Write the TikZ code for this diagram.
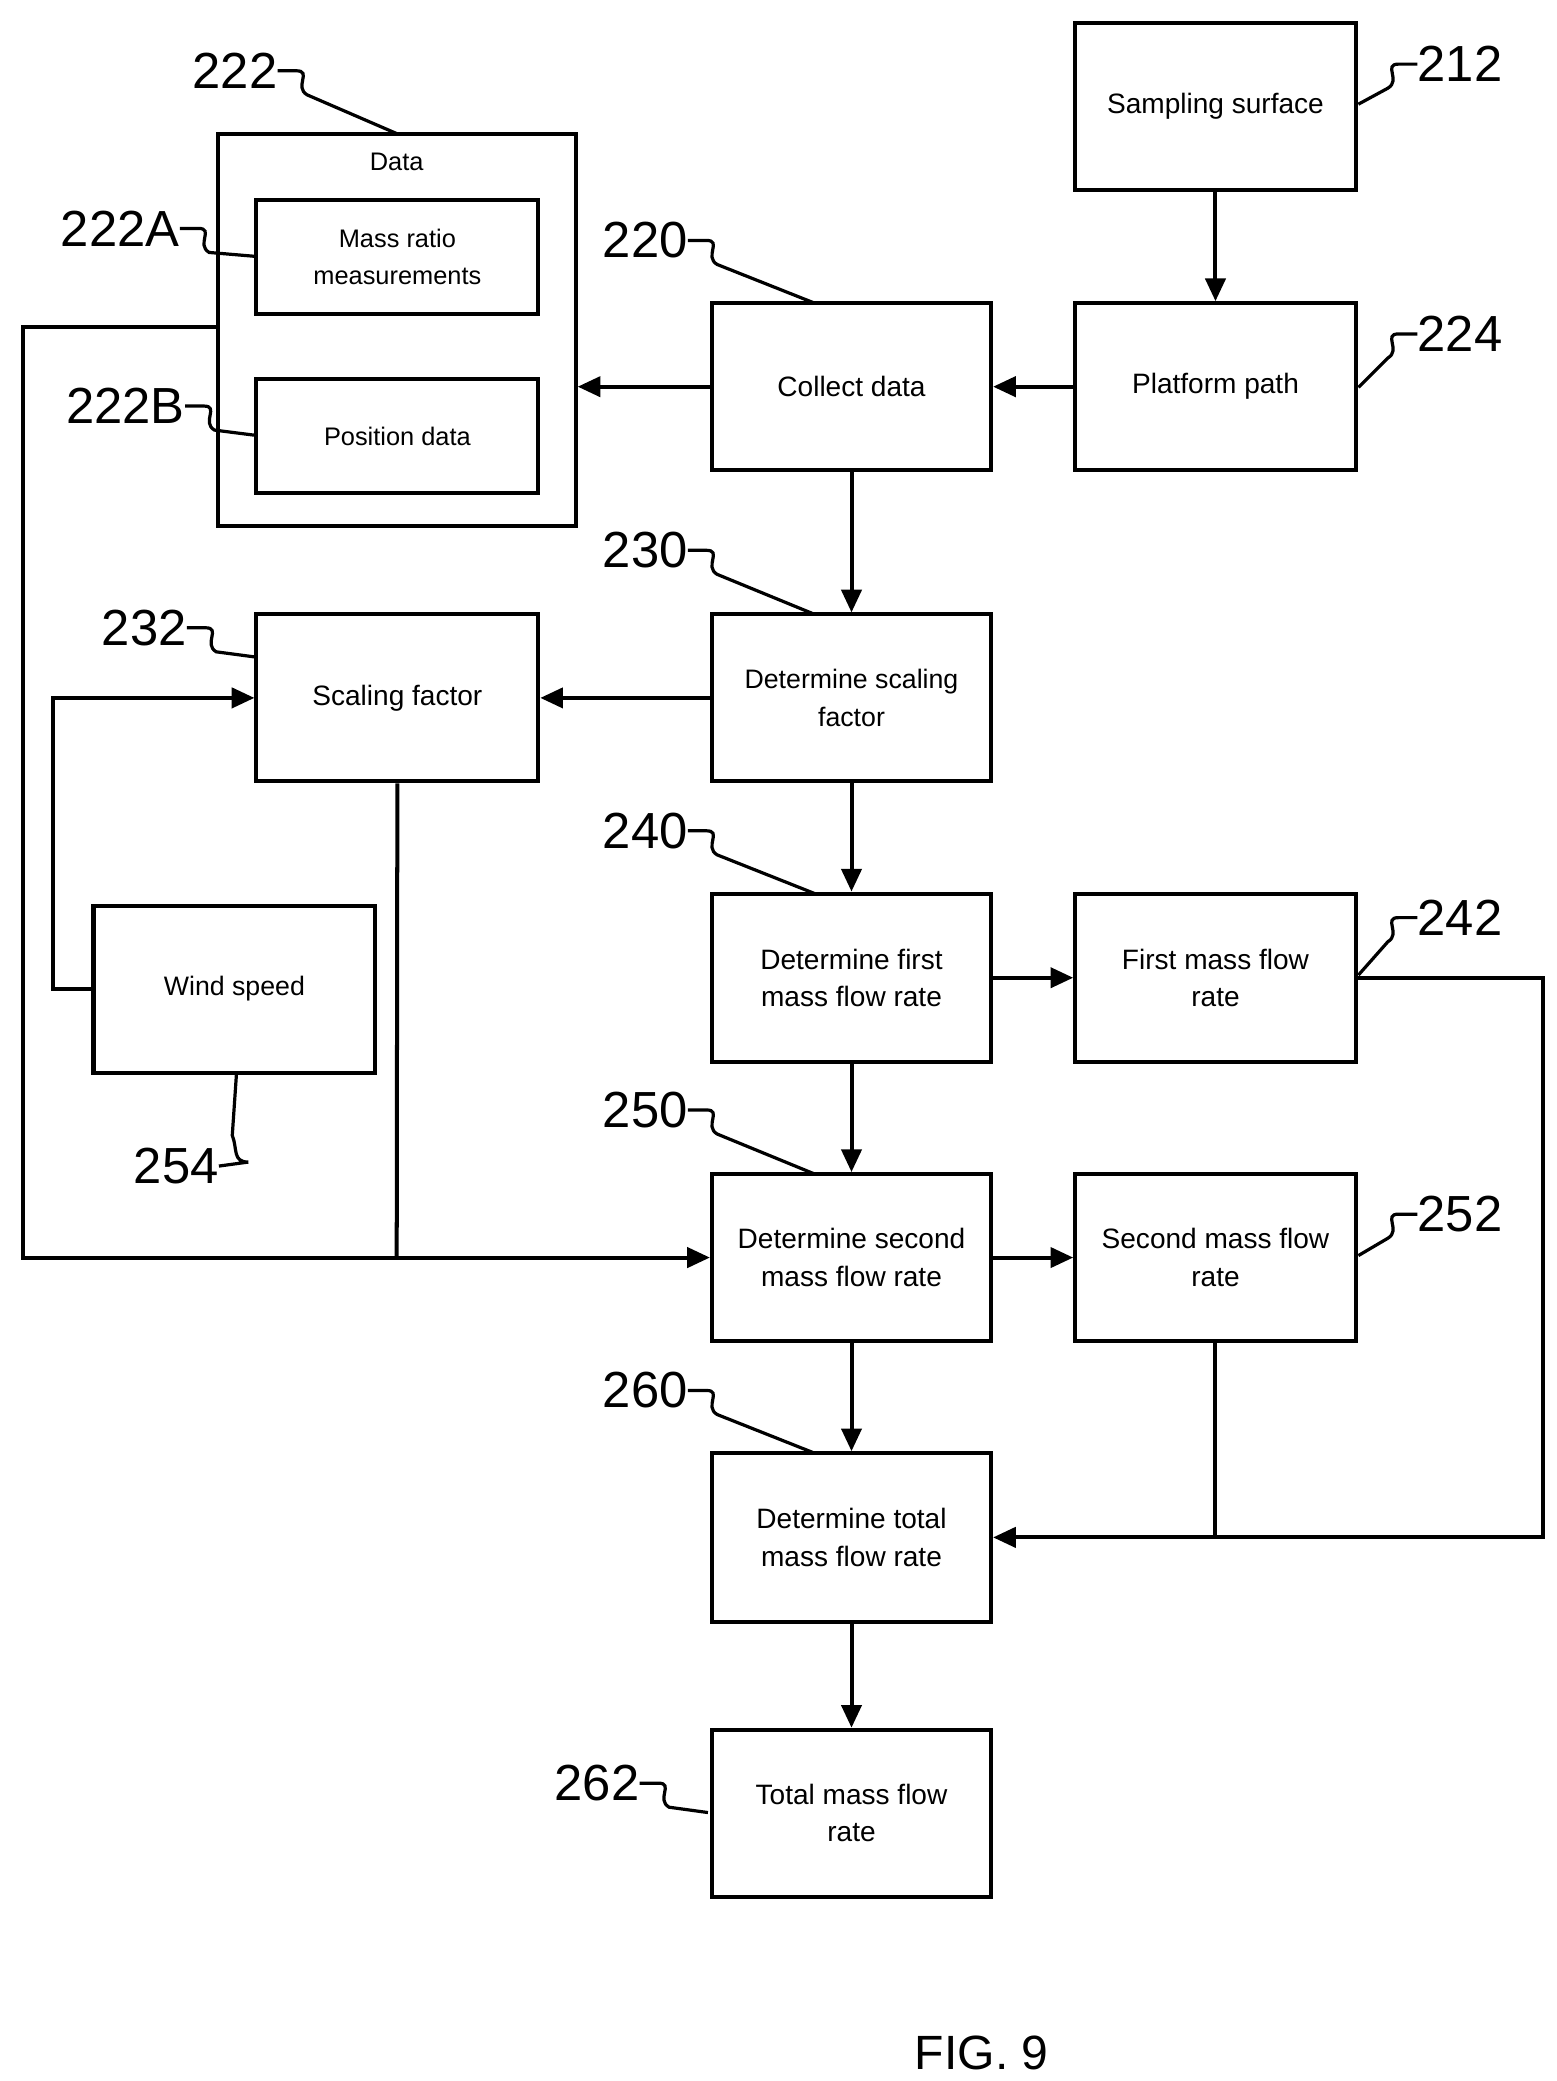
\documentclass[tikz,border=0pt]{standalone}
\usepackage{fontspec}
\setmainfont{Liberation Sans}
\usetikzlibrary{arrows.meta}
\begin{document}
\begin{tikzpicture}[x=1pt,y=-1pt,
  box/.style={draw,line width=3pt,inner sep=0pt,align=center,font=\fontsize{21}{28}\selectfont},
  con/.style={line width=3pt},
  arr/.style={con,-{Triangle[length=17pt,width=15pt]}},
  lead/.style={line width=2.4pt},
  num/.style={font=\fontsize{38}{38}\selectfont,inner sep=0pt}]
\useasboundingbox (0,0) rectangle (1165,1558);
% boxes
\node[box,minimum width=210,minimum height=125] (ss) at (910,79.5) {Sampling surface};
\node[box,minimum width=210,minimum height=125] (pp) at (910,289.5) {Platform path};
\node[box,minimum width=209,minimum height=125] (cd) at (637.5,289.5) {Collect data};
\node[box,minimum width=268,minimum height=294] (data) at (297,247) {};
\node[font=\fontsize{19}{22}\selectfont] (dt) at (297,121) {Data};
\node[box,font=\fontsize{19}{28}\selectfont,minimum width=211,minimum height=85] (mr) at (297.5,192.5) {Mass ratio\\measurements};
\node[box,font=\fontsize{19}{22}\selectfont,minimum width=211,minimum height=85] (pd) at (297.5,326.5) {Position data};
\node[box,font=\fontsize{20}{28}\selectfont,minimum width=209,minimum height=125] (dsf) at (637.5,522.5) {Determine scaling\\factor};
\node[box,minimum width=211,minimum height=125] (sf) at (297.5,522.5) {Scaling factor};
\node[box,font=\fontsize{20}{22}\selectfont,minimum width=211,minimum height=125] (ws) at (175.5,740.5) {Wind speed};
\node[box,minimum width=209,minimum height=126] (d1) at (637.5,732) {Determine first\\mass flow rate};
\node[box,minimum width=210,minimum height=126] (f1) at (910,732) {First mass flow\\rate};
\node[box,minimum width=209,minimum height=125] (d2) at (637.5,941.5) {Determine second\\mass flow rate};
\node[box,minimum width=210,minimum height=125] (f2) at (910,941.5) {Second mass flow\\rate};
\node[box,minimum width=209,minimum height=126] (dt2) at (637.5,1151) {Determine total\\mass flow rate};
\node[box,minimum width=209,minimum height=125] (tot) at (637.5,1357.5) {Total mass flow\\rate};
\node[font=\fontsize{36}{36}\selectfont] (fig) at (735,1537) {FIG. 9};
% connectors
\draw[arr] (ss) -- (pp);
\draw[arr] (pp) -- (cd);
\draw[arr] (cd.west) -- (data.east |- cd.west);
\draw[arr] (cd) -- (dsf);
\draw[arr] (dsf) -- (sf);
\draw[arr] (ws.west) -- (40,740.5) |- (sf.west);
\draw[arr] (dsf) -- (d1);
\draw[arr] (d1) -- (f1);
\draw[arr] (d1) -- (d2);
\draw[arr] (d2) -- (f2);
\draw[arr] (d2) -- (dt2);
\draw[arr] (dt2) -- (tot);
\coordinate (j1) at (297,941.5);
\draw[arr] (data.west |- 0,245) -- (17,245) |- (d2.west);
\draw[con] (sf.south) -- (j1);
\coordinate (j2) at (910,1151);
\draw[arr] (f1.east) -- (1155,732) |- (dt2.east);
\draw[con] (f2.south) -- (j2);
% labels
\node[num] (l222) at (176,53) {222};
\node[num] (l212) at (1093,48) {212};
\node[num] (l222a) at (90,171) {222A};
\node[num] (l222b) at (94,304) {222B};
\node[num] (l220) at (483,180) {220};
\node[num] (l224) at (1093,250) {224};
\node[num] (l230) at (483,412) {230};
\node[num] (l232) at (108,470) {232};
\node[num] (l240) at (483,622) {240};
\node[num] (l242) at (1093,687) {242};
\node[num] (l250) at (483,831) {250};
\node[num] (l252) at (1093,909) {252};
\node[num] (l260) at (483,1041) {260};
\node[num] (l262) at (447,1335) {262};
\node[num] (l254) at (132,873) {254};
\foreach \n/\tx/\ty in {l222/297/100, l222a/192/192, l222b/192/326, l220/610/227, l230/610/460, l232/192/492, l240/610/669, l250/610/879, l260/610/1088, l262/530/1357}{
  \draw[lead] (\n.east) -- ++(14,0) .. controls +(12,0) and +(-10,-6) .. ++(8,18) -- (\tx,\ty);
}
\foreach \n/\tx/\ty in {l212/1017/78, l224/1017/290, l242/1017/730, l252/1017/940}{
  \draw[lead] (\n.west) -- ++(-14,0) .. controls +(-12,0) and +(10,-6) .. ++(-8,18) -- (\tx,\ty);
}
\draw[lead] (l254.east) -- ++(22,-3) .. controls +(-12,0) and +(4,10) .. ++(-12,-20) -- (ws.south -| 177,0);
\end{tikzpicture}
\end{document}
